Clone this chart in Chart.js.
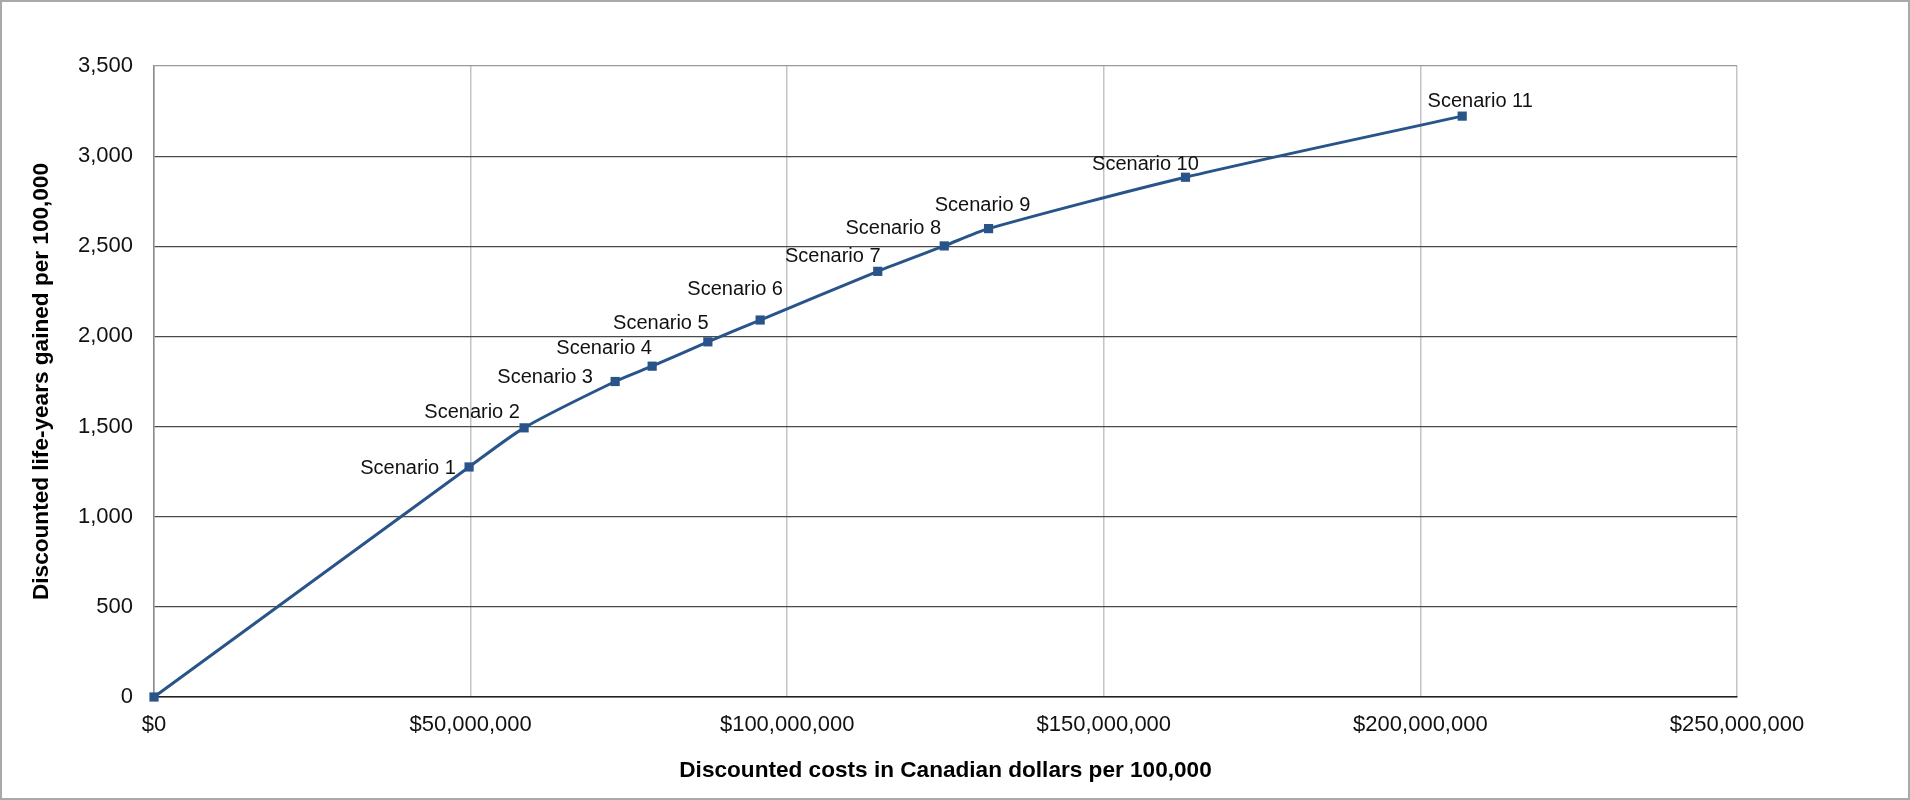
<!DOCTYPE html>
<html lang="en">
<head>
    <meta charset="UTF-8">
    <title>Discounted costs vs life-years gained</title>
    <style>
        html, body {
            margin: 0;
            padding: 0;
            background: #fff;
        }
        #wrap {
            width: 1910px;
            height: 800px;
        }
    </style>
</head>
<body>
    <div id="wrap">
        <canvas id="scenarioChart" width="1910" height="800"></canvas>
    </div>

    <script src="https://cdn.jsdelivr.net/npm/chart.js"></script>

    <script>
        // values
        const scenarios = ["", "Scenario 1", "Scenario 2", "Scenario 3", "Scenario 4", "Scenario 5",
            "Scenario 6", "Scenario 7", "Scenario 8", "Scenario 9", "Scenario 10", "Scenario 11"];
        const costs = [0, 49760000, 58450000, 72830000, 78670000, 87470000,
            95730000, 114300000, 124800000, 131800000, 162900000, 206600000];
        const lifeYears = [0, 1276, 1493, 1750, 1835, 1970, 2091, 2361, 2502, 2598, 2883, 3222];

        const xTitle = "Discounted costs in Canadian dollars per 100,000";
        const yTitle = "Discounted life-years gained per 100,000";

        // where each label sits relative to its marker (text centre, px)
        const labelOffsets = [[0, 0], [-61, 2], [-52, -15], [-70, -4], [-48, -18], [-47, -18],
            [-25, -31], [-45, -15], [-51, -17], [-6, -23], [-40, -13], [18, -15]];

        const fontFamily = '"Liberation Sans", Arial, sans-serif';
        const lineColor = "#29548a";

        // frame round the whole chart
        const framePlugin = {
            id: "frame",
            beforeDraw(chart) {
                const c = chart.ctx;
                c.save();
                c.fillStyle = "#fff";
                c.fillRect(0, 0, chart.width, chart.height);
                c.strokeStyle = "#a9a9a9";
                c.lineWidth = 2;
                c.strokeRect(1, 1, chart.width - 2, chart.height - 2);
                c.restore();
            }
        };

        // "Scenario n" text next to each marker
        const labelPlugin = {
            id: "scenarioLabels",
            afterDatasetsDraw(chart) {
                const c = chart.ctx;
                const meta = chart.getDatasetMeta(0);
                c.save();
                c.font = "20px " + fontFamily;
                c.fillStyle = "#111";
                c.textAlign = "center";
                c.textBaseline = "middle";
                meta.data.forEach(function(pt, i) {
                    if (!scenarios[i]) return;
                    const off = labelOffsets[i];
                    c.fillText(scenarios[i], pt.x + off[0], pt.y + off[1]);
                });
                c.restore();
            }
        };

        const points = costs.map(function(x, i) { return { x: x, y: lifeYears[i] }; });

        let ctx = document.getElementById("scenarioChart").getContext("2d");
        let chart = new Chart(ctx, {
            type: "line",
            data: {
                datasets: [{
                    label: "Scenarios",
                    data: points,
                    borderColor: lineColor,
                    backgroundColor: lineColor,
                    borderWidth: 3,
                    tension: 0.25,
                    pointStyle: "rect",
                    pointRadius: 6.5,
                    pointBorderWidth: 0,
                    clip: false
                }]
            },
            options: {
                responsive: false,
                animation: false,
                layout: {
                    padding: { left: 0, right: 173, top: 66, bottom: 0 }
                },
                plugins: {
                    legend: { display: false },
                    tooltip: { enabled: false }
                },
                scales: {
                    x: {
                        type: "linear",
                        min: 0,
                        max: 250000000,
                        afterFit: function(scale) { scale.height = 103; },
                        ticks: {
                            stepSize: 50000000,
                            padding: 15,
                            color: "#111",
                            font: { family: fontFamily, size: 22 },
                            callback: function(v) { return "$" + Number(v).toLocaleString("en-US"); }
                        },
                        grid: {
                            color: "#c4c4c4",
                            lineWidth: 1.5,
                            drawTicks: false
                        },
                        border: { color: "#222", width: 1.5 },
                        title: {
                            display: true,
                            text: xTitle,
                            color: "#000",
                            font: { family: fontFamily, size: 22.6, weight: "bold" },
                            padding: { top: 0, bottom: 16 }
                        }
                    },
                    y: {
                        min: 0,
                        max: 3500,
                        afterFit: function(scale) { scale.width = 154; },
                        ticks: {
                            stepSize: 500,
                            padding: 21,
                            color: "#111",
                            font: { family: fontFamily, size: 22 },
                            callback: function(v) { return Number(v).toLocaleString("en-US"); }
                        },
                        grid: {
                            color: function(c) { return c.tick && c.tick.value === 3500 ? "#9a9a9a" : "#4a4a4a"; },
                            lineWidth: 1.2,
                            drawTicks: false
                        },
                        border: { color: "#8a8a8a", width: 1.5 },
                        title: {
                            display: true,
                            text: yTitle,
                            color: "#000",
                            font: { family: fontFamily, size: 22.6, weight: "bold" },
                            padding: { top: 28, bottom: 0 }
                        }
                    }
                }
            },
            plugins: [framePlugin, labelPlugin]
        });
    </script>
</body>
</html>
